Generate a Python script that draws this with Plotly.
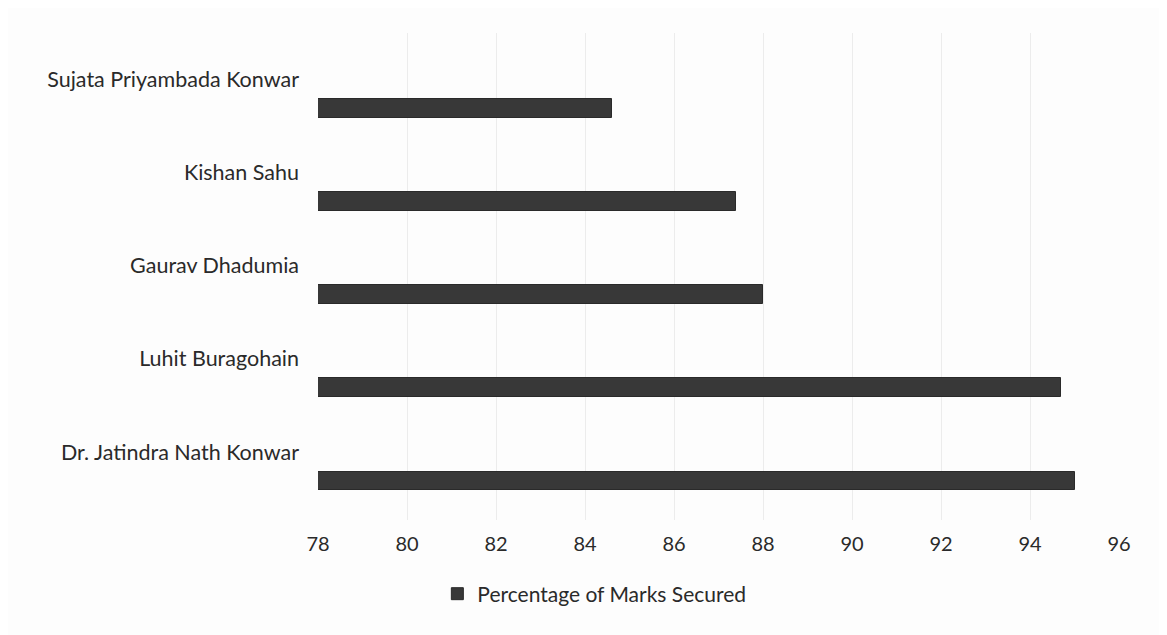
import plotly.graph_objects as go

# students listed bottom -> top as they appear on the chart
students = [
    "Dr. Jatindra Nath Konwar",
    "Luhit Buragohain",
    "Gaurav Dhadumia",
    "Kishan Sahu",
    "Sujata Priyambada Konwar",
]
marks_pct = [95.0, 94.7, 88.0, 87.4, 84.6]
x_ticks = [78, 80, 82, 84, 86, 88, 90, 92, 94, 96]

font_family = "Lato, 'Open Sans', sans-serif"

fig = go.Figure()

fig.add_trace(
    go.Bar(
        x=marks_pct,
        y=students,
        orientation='h',
        name='Percentage of Marks Secured',
        width=0.2,
        offset=-0.41,
        marker={
            'color': '#383838',
            'line': {'color': '#2a2a2a', 'width': 1},
        },
    )
)

fig.update_layout(
    width=1167,
    height=635,
    paper_bgcolor='#fdfdfd',
    plot_bgcolor='#fdfdfd',
    margin={'l': 310, 'r': 56, 't': 25, 'b': 123, 'autoexpand': False},
    font={'family': font_family, 'size': 21, 'color': '#2a2a2a'},
    showlegend=True,
    legend={
        'orientation': 'h',
        'x': 0.345,
        'xanchor': 'center',
        'y': -0.152,
        'yanchor': 'middle',
        'font': {'size': 21},
    },
    bargap=0,
)

fig.update_xaxes(
    range=[78, 96],
    tickvals=x_ticks,
    showgrid=True,
    gridcolor='#ececec',
    gridwidth=1,
    zeroline=False,
    showline=False,
    ticks='',
    ticklabelstandoff=10,
    tickfont={'size': 20},
    automargin=False,
)

fig.update_yaxes(
    type='category',
    categoryorder='array',
    categoryarray=students,
    range=[-0.73, 4.5],
    showgrid=False,
    zeroline=False,
    showline=False,
    ticks='',
    ticklabelstandoff=18,
    tickfont={'size': 21.5},
    automargin=False,
)

fig.write_html("out.html")
